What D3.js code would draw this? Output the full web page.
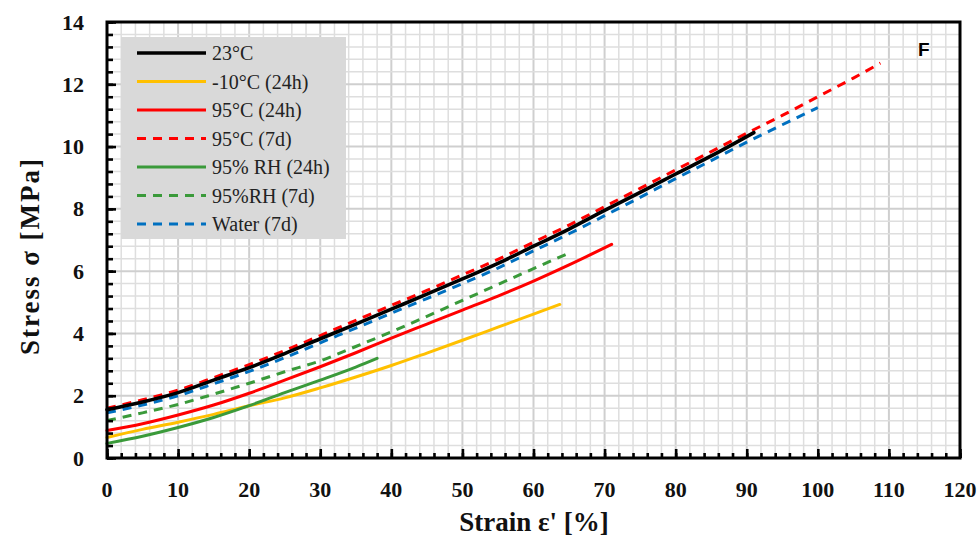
<!DOCTYPE html>
<html>
<head>
<meta charset="utf-8">
<script src="https://cdn.jsdelivr.net/npm/d3@7"></script>
<style>
  html, body { margin: 0; padding: 0; background: #fff; }
  svg { display: block; }
</style>
</head>
<body>
<svg id="chart" width="979" height="543"></svg>
<script>
// Stress–strain curves for the conditioned specimens
const strain23 = [0, 5, 10, 15, 20, 25, 30, 35, 40, 45, 50, 55, 60, 65, 70, 75, 80, 85, 91];
const stress23 = [1.55, 1.8, 2.1, 2.5, 2.9, 3.35, 3.83, 4.3, 4.78, 5.26, 5.75, 6.25, 6.8, 7.35, 7.95, 8.53, 9.12, 9.7, 10.45];

const strainM10 = [0, 5, 10, 15, 20, 25, 30, 35, 40, 45, 50, 55, 60, 63.7];
const stressM10 = [0.66, 0.92, 1.15, 1.4, 1.68, 1.93, 2.25, 2.6, 2.97, 3.37, 3.78, 4.2, 4.62, 4.93];

const strain95h = [0, 5, 10, 15, 20, 25, 30, 35, 40, 45, 50, 55, 60, 65, 71];
const stress95h = [0.88, 1.1, 1.38, 1.7, 2.08, 2.5, 2.93, 3.38, 3.85, 4.3, 4.75, 5.2, 5.68, 6.2, 6.86];

const strain95d = [0, 5, 10, 15, 20, 25, 30, 35, 40, 45, 50, 55, 60, 65, 70, 75, 80, 85, 90, 95, 100, 105, 108.8];
const stress95d = [1.6, 1.87, 2.18, 2.58, 3.0, 3.45, 3.93, 4.42, 4.9, 5.38, 5.88, 6.38, 6.93, 7.48, 8.07, 8.66, 9.25, 9.84, 10.43, 11.0, 11.6, 12.2, 12.68];

const strainRHh = [0, 5, 10, 15, 20, 25, 30, 35, 38];
const stressRHh = [0.47, 0.7, 0.98, 1.3, 1.68, 2.1, 2.5, 2.92, 3.2];

const strainRHd = [0, 5, 10, 15, 20, 25, 30, 35, 40, 45, 50, 55, 60, 65.2];
const stressRHd = [1.2, 1.45, 1.72, 2.05, 2.4, 2.77, 3.12, 3.58, 4.05, 4.55, 5.06, 5.57, 6.08, 6.6];

const strainW = [0, 5, 10, 15, 20, 25, 30, 35, 40, 45, 50, 55, 60, 65, 70, 75, 80, 85, 90, 95, 100];
const stressW = [1.45, 1.7, 2.0, 2.38, 2.78, 3.22, 3.7, 4.17, 4.65, 5.12, 5.6, 6.1, 6.65, 7.2, 7.78, 8.37, 8.97, 9.55, 10.14, 10.7, 11.25];

const seriesNames = ["23°C", "-10°C (24h)", "95°C (24h)", "95°C (7d)", "95% RH (24h)", "95%RH (7d)", "Water (7d)"];
const xTickValues = [0, 10, 20, 30, 40, 50, 60, 70, 80, 90, 100, 110, 120];
const yTickValues = [0, 2, 4, 6, 8, 10, 12, 14];

// Series styling
const styles = [
  { color: "#000000", dash: null, width: 3.6 },
  { color: "#FFC000", dash: null, width: 3 },
  { color: "#FF0000", dash: null, width: 3 },
  { color: "#FF0000", dash: "9,7", width: 3 },
  { color: "#3A9A3A", dash: null, width: 3 },
  { color: "#3A9A3A", dash: "9,7", width: 3 },
  { color: "#0070C0", dash: "9,7", width: 3 }
];

const strains = [strain23, strainM10, strain95h, strain95d, strainRHh, strainRHd, strainW];
const stresses = [stress23, stressM10, stress95h, stress95d, stressRHh, stressRHd, stressW];

const svg = d3.select("#chart");
const pL = 107, pR = 960, pT = 22, pB = 458;

const x = d3.scaleLinear().domain([0, 120]).range([pL, pR]);
const y = d3.scaleLinear().domain([0, 14]).range([pB, pT]);

const serif = "'Liberation Serif', 'Times New Roman', serif";

// Grid
const grid = svg.append("g");
const xMinor = d3.range(0, 121, 2);
const yMinor = d3.range(0, 36).map(i => +(i * 0.4).toFixed(2));
const isMajorY = d => Math.abs(d / 2 - Math.round(d / 2)) < 1e-6;
grid.selectAll("line.vx").data(xMinor).enter().append("line")
  .attr("x1", d => x(d)).attr("x2", d => x(d))
  .attr("y1", pT).attr("y2", pB)
  .attr("stroke", d => d % 10 === 0 ? "#cfcfcf" : "#dedede")
  .attr("stroke-width", d => d % 10 === 0 ? 2 : 1.5);
grid.selectAll("line.hy").data(yMinor).enter().append("line")
  .attr("x1", pL).attr("x2", pR)
  .attr("y1", d => y(d)).attr("y2", d => y(d))
  .attr("stroke", d => isMajorY(d) ? "#cfcfcf" : "#dedede")
  .attr("stroke-width", d => isMajorY(d) ? 2 : 1.5);

// Curves
const line = d3.line().x(d => x(d[0])).y(d => y(d[1])).curve(d3.curveMonotoneX);
const plot = svg.append("g");
strains.forEach((xs, i) => {
  const pts = xs.map((v, j) => [v, stresses[i][j]]);
  plot.append("path")
    .datum(pts)
    .attr("d", line)
    .attr("fill", "none")
    .attr("stroke", styles[i].color)
    .attr("stroke-width", styles[i].width)
    .attr("stroke-dasharray", styles[i].dash)
    .attr("stroke-linecap", styles[i].dash ? "butt" : "round");
});
// black reference curve stays on top of the dashed ones
plot.select("path").raise();

// Ticks pointing inward
const axB = svg.append("g").attr("transform", `translate(0,${pB})`);
axB.call(d3.axisBottom(x).tickValues(xMinor).tickSize(-5).tickFormat(""));
axB.append("g").call(d3.axisBottom(x).tickValues(xTickValues).tickSize(-9).tickFormat(""));
const axL = svg.append("g").attr("transform", `translate(${pL},0)`);
axL.call(d3.axisLeft(y).tickValues(yMinor).tickSize(-6).tickFormat(""));
axL.append("g").call(d3.axisLeft(y).tickValues(yTickValues).tickSize(-9).tickFormat(""));
svg.selectAll(".domain").remove();
svg.selectAll(".tick line").attr("stroke", "#000").attr("stroke-width", 2.6);

// Frame
svg.append("rect")
  .attr("x", pL).attr("y", pT)
  .attr("width", pR - pL).attr("height", pB - pT)
  .attr("fill", "none").attr("stroke", "#000").attr("stroke-width", 3);

// Tick labels
svg.append("g").selectAll("text").data(xTickValues).enter().append("text")
  .attr("x", d => x(d)).attr("y", 497)
  .attr("text-anchor", "middle")
  .attr("font-family", serif).attr("font-weight", "bold").attr("font-size", 22)
  .attr("fill", "#111")
  .text(d => d);
svg.append("g").selectAll("text").data(yTickValues).enter().append("text")
  .attr("x", 84).attr("y", d => y(d) + 7.5)
  .attr("text-anchor", "end")
  .attr("font-family", serif).attr("font-weight", "bold").attr("font-size", 22)
  .attr("fill", "#111")
  .text(d => d);

// Axis titles
svg.append("text")
  .attr("x", 534).attr("y", 531)
  .attr("text-anchor", "middle")
  .attr("font-family", serif).attr("font-weight", "bold").attr("font-size", 27)
  .attr("fill", "#111")
  .text("Strain ε' [%]");
svg.append("text")
  .attr("transform", "translate(39,256) rotate(-90)")
  .attr("text-anchor", "middle")
  .attr("font-family", serif).attr("font-weight", "bold").attr("font-size", 27)
  .attr("letter-spacing", 2)
  .attr("fill", "#111")
  .text("Stress σ [MPa]");

// Panel letter
svg.append("text")
  .attr("x", 918).attr("y", 56)
  .attr("font-family", "'Liberation Sans', Arial, sans-serif")
  .attr("font-weight", "bold").attr("font-size", 19)
  .text("F");

// Legend
const legend = svg.append("g");
legend.append("rect")
  .attr("x", 121).attr("y", 37).attr("width", 225).attr("height", 202)
  .attr("fill", "#d9d9d9");
seriesNames.forEach((name, i) => {
  const cy = 53 + i * 28.5;
  legend.append("line")
    .attr("x1", 137).attr("x2", 206).attr("y1", cy).attr("y2", cy)
    .attr("stroke", styles[i].color)
    .attr("stroke-width", styles[i].width)
    .attr("stroke-dasharray", styles[i].dash);
  legend.append("text")
    .attr("x", 212).attr("y", cy + 7)
    .attr("font-family", serif).attr("font-size", 20)
    .attr("fill", "#222")
    .text(name);
});
</script>
</body>
</html>
